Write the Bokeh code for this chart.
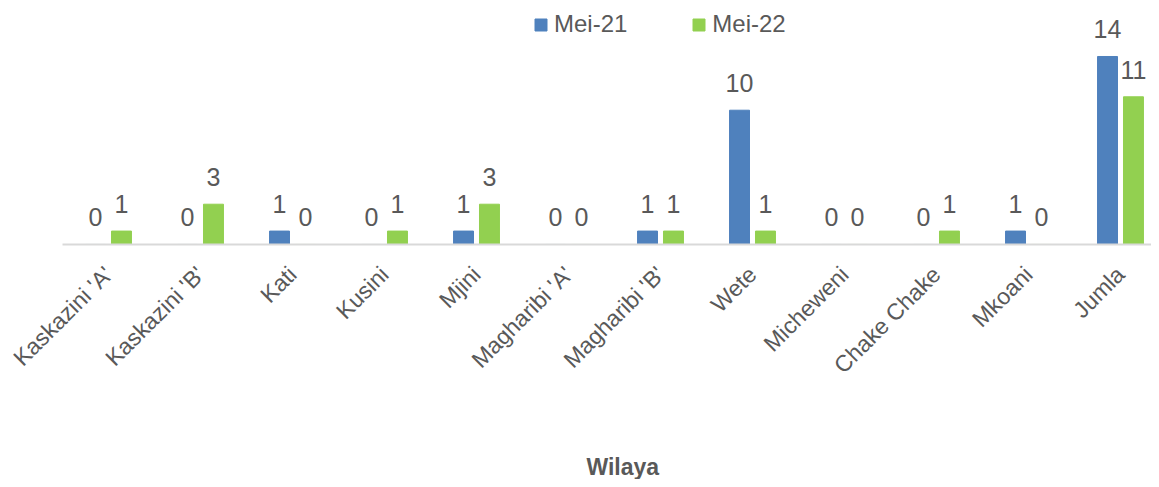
import math
from bokeh.plotting import figure
from bokeh.models import ColumnDataSource, Range1d, FixedTicker, LabelSet, Legend, LegendItem, Label
from bokeh.core.properties import value
from bokeh.transform import dodge
from bokeh.embed import file_html
from bokeh.resources import INLINE

categories = ["Kaskazini 'A'", "Kaskazini 'B'", "Kati", "Kusini", "Mjini", "Magharibi 'A'",
              "Magharibi 'B'", "Wete", "Micheweni", "Chake Chake", "Mkoani", "Jumla"]
mei21 = [0, 0, 1, 0, 1, 0, 1, 10, 0, 0, 1, 14]
mei22 = [1, 3, 0, 1, 3, 0, 1, 1, 0, 1, 0, 11]
series_names = ["Mei-21", "Mei-22"]
axis_title = "Wilaya"
colors = ["#4F81BD", "#92D050"]

FONT = "Liberation Sans"
GRAY = "#595959"

xs = list(range(len(categories)))
src = ColumnDataSource(dict(x=xs, a=mei21, b=mei22,
                            at=[str(v) for v in mei21], bt=[str(v) for v in mei22]))

x_end = 11.337
p = figure(width=1151, height=479, output_backend="svg", toolbar_location=None,
           x_range=Range1d(-1.174, x_end), y_range=Range1d(-17.50, 18.17),
           min_border_left=0, min_border_right=0, min_border_top=0, min_border_bottom=0,
           outline_line_color=None)
p.grid.visible = False
p.yaxis.visible = False

off = 0.141
w = 0.217
r1 = p.vbar(x=dodge('x', -off, range=p.x_range), top='a', width=w, source=src,
            fill_color=colors[0], line_color=colors[0])
r2 = p.vbar(x=dodge('x', off, range=p.x_range), top='b', width=w, source=src,
            fill_color=colors[1], line_color=colors[1])

for col, txt, d in (("a", "at", -off), ("b", "bt", off)):
    ls = LabelSet(x=dodge('x', d, range=p.x_range), y=col, text=txt, source=src,
                  y_offset=18, text_align="center", text_baseline="alphabetic",
                  text_font=value(FONT), text_font_size="25px", text_color=GRAY)
    p.add_layout(ls)

ax = p.xaxis[0]
ax.fixed_location = 0
ax.bounds = (-0.5, x_end)
ax.ticker = FixedTicker(ticks=xs)
ax.major_label_overrides = {i: c for i, c in enumerate(categories)}
ax.major_label_orientation = math.pi / 4
ax.major_label_text_font = FONT
ax.major_label_text_font_size = "23px"
ax.major_label_text_color = GRAY
ax.major_label_standoff = 20
ax.major_tick_line_color = None
ax.minor_tick_line_color = None
ax.axis_line_color = "#D9D9D9"
ax.axis_line_width = 2

p.add_layout(Label(x=5.59, y=-16.6, text=axis_title, text_align="center",
                   text_baseline="middle", text_font=FONT, text_font_style="bold",
                   text_font_size="23px", text_color=GRAY))

legend = Legend(items=[LegendItem(label=series_names[0], renderers=[r1]),
                       LegendItem(label=series_names[1], renderers=[r2])],
                orientation="horizontal", location=(533, 441),
                glyph_width=15, glyph_height=15, label_standoff=6, spacing=64,
                padding=0, margin=0, border_line_color=None, background_fill_alpha=0,
                label_text_font=FONT, label_text_font_size="24px", label_text_color=GRAY)
p.add_layout(legend)

open("out.html", "w").write(file_html(p, INLINE))
